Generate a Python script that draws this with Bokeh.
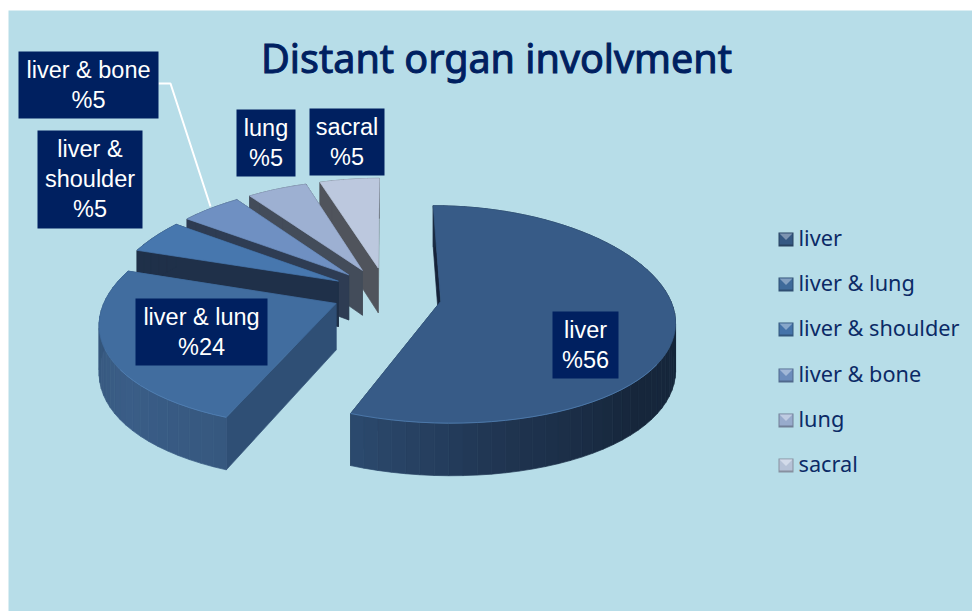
import math
from bokeh.plotting import figure
from bokeh.models import Range1d, ColumnDataSource
from bokeh.core.properties import value
from bokeh.embed import file_html
from bokeh.resources import INLINE

# ---- data ----
categories = ["liver", "liver & lung", "liver & shoulder", "liver & bone", "lung", "sacral"]
percents = [56, 24, 5, 5, 5, 5]
title_text = "Distant organ involvment"

# ---- styles ----
BG = "#b7dde8"
NAVY = "#002060"
LEG_TXT = "#0b2a66"
top_cols = ["#375b87", "#416d9f", "#4777ae", "#6f90c2", "#9db0d2", "#bcc8de"]
rim_stops = [
    ["#2c4a6e", "#1f3450", "#16263b", "#16263b", "#16263b", "#1a2c44", "#1a2c44"],
    ["#2f4f75", "#38597f", "#3a5d87", "#36587f"],
    ["#1f3049", "#1f3049"], ["#2e3c53", "#2e3c53"], ["#434c5a", "#434c5a"], ["#50545c", "#50545c"],
]
# (face at the slice's clockwise end, face at its start)
cut_cols = [("#1b2c44", "#15233a"), ("#2f4f75", "#2f4f75"), ("#1f3049", "#1f3049"),
            ("#2e3c53", "#2e3c53"), ("#434c5a", "#434c5a"), ("#7f9296", "#50545c")]
leg_cols = ["#375b87", "#416d9f", "#4777ae", "#6f90c2", "#9db0d2", "#bcc8de"]

# pie geometry (page pixels)
CX, CY = 386, 292
RX, RY = 228.5, 106
K = 0.12
KX = 0.16
EXPL = 0.24
THICK = 46
SLICE_DY = [4, 0, 0, 0, 0, 0]


def hex2rgb(h):
    return tuple(int(h[i:i + 2], 16) for i in (1, 3, 5))


def ramp(stops, t):
    t = max(0, min(1, t)) * (len(stops) - 1)
    i = min(int(t), len(stops) - 2)
    f = t - i
    a, b = hex2rgb(stops[i]), hex2rgb(stops[i + 1])
    return "#%02x%02x%02x" % tuple(round(a[j] + (b[j] - a[j]) * f) for j in range(3))


def project(pu, pv, down=0.0):
    w = 1 / (1 - K * pv)
    wx = 1 / (1 - KX * pv)
    return CX + RX * pu * wx, CY + RY * pv * w + down * w


def rim_point(ox, oy, ang, down=0.0):
    return project(ox + math.sin(ang), oy - math.cos(ang), down)


polys = []


def add(pts, col, dy=0):
    polys.append(([p[0] for p in pts], [p[1] + dy for p in pts], col))


# slice angles follow from the values (clockwise from the top)
total = sum(percents)
slices = []
acc = 0
for i, v in enumerate(percents):
    a0 = acc / total * 2 * math.pi
    acc += v
    a1 = acc / total * 2 * math.pi
    mid = (a0 + a1) / 2
    slices.append((i, a0, a1, EXPL * math.sin(mid), -EXPL * math.cos(mid)))

hl_x, hl_y = [], []
# painter's order: far slices first
for i, a0, a1, ox, oy in reversed(slices):
    dy = SLICE_DY[i]
    apex_t = project(ox, oy)
    apex_b = project(ox, oy, THICK)
    # cut faces
    add([apex_t, apex_b, rim_point(ox, oy, a1, THICK), rim_point(ox, oy, a1)], cut_cols[i][0], dy)
    add([apex_t, apex_b, rim_point(ox, oy, a0, THICK), rim_point(ox, oy, a0)], cut_cols[i][1], dy)
    # outer rim as shaded strips
    n = max(3, int((a1 - a0) / math.radians(3)))
    angs = [a0 + (a1 - a0) * k / n for k in range(n + 1)]
    for k in range(n):
        t = 1 - (k + 0.5) / n
        add([rim_point(ox, oy, angs[k]), rim_point(ox, oy, angs[k + 1]),
             rim_point(ox, oy, angs[k + 1], THICK), rim_point(ox, oy, angs[k], THICK)],
            ramp(rim_stops[i], t), dy)
    # top surface
    add([apex_t] + [rim_point(ox, oy, a) for a in angs], top_cols[i], dy)
    # thin light edge on the part of the rim nearest the viewer
    front = [a for a in angs if -math.cos(a) > 0.55]
    if len(front) > 1:
        pts = [rim_point(ox, oy, a) for a in front]
        hl_x.append([q[0] for q in pts])
        hl_y.append([q[1] + dy for q in pts])

p = figure(width=972, height=611, x_range=Range1d(0, 972), y_range=Range1d(611, 0),
           toolbar_location=None, output_backend="svg", min_border=0,
           background_fill_color="white", border_fill_color="white", outline_line_color=None)
p.axis.visible = False
p.grid.visible = False

p.quad(left=[8], right=[972], top=[10], bottom=[611], fill_color=BG, line_color=None)

src = ColumnDataSource(dict(xs=[q[0] for q in polys], ys=[q[1] for q in polys], c=[q[2] for q in polys]))
p.patches("xs", "ys", source=src, fill_color="c", line_color="c", line_width=0.7)
p.multi_line(hl_x, hl_y, line_color="#5483b8", line_width=1, line_alpha=0.7)

# title
p.text([496], [57], text=[title_text], text_font=value("Noto Sans"), text_font_size="39.5px",
       text_color=NAVY, text_outline_color=NAVY, text_align="center", text_baseline="middle")

# leader line of "liver & bone"
p.line([158, 170, 210], [83, 83, 206], line_color="white", line_width=2)

# data labels
label_boxes = [(552, 618, 311, 378), (135, 267, 298, 365), (37, 142, 130, 228),
               (18, 158, 51, 118), (236, 295, 109, 176), (309, 384, 108, 175)]
wrap = {"liver & shoulder": ["liver &", "shoulder"]}
for (l, r, t, b), name, v in zip(label_boxes, categories, percents):
    p.quad(left=[l], right=[r], top=[t], bottom=[b], fill_color=NAVY, line_color=None)
    lines = wrap.get(name, [name]) + [f"%{v}"]
    y0 = (t + b) / 2 - (len(lines) - 1) * 15 - 0.5
    p.text([(l + r) / 2] * len(lines), [y0 + j * 30 for j in range(len(lines))], text=lines,
           text_font=value("Liberation Sans"), text_font_size="23.5px", text_color="white",
           text_align="center", text_baseline="middle")

# legend
leg_y = [239, 284, 329, 375, 420, 465]
for name, col, y in zip(categories, leg_cols, leg_y):
    x0, x1, y0, y1 = 778, 793, y - 7, y + 7
    ix0, ix1, iy0, iy1 = x0 + 1, x1 - 1, y0 + 1, y1 - 2
    xm, ym = (x0 + x1) / 2, (iy0 + iy1) / 2 + 1
    frame = ramp(["#000000", col], 0.72)
    mid = ramp(["#000000", col], 0.97)
    light = ramp([col, "#ffffff"], 0.35)
    p.quad(left=[x0], right=[x1], top=[y0], bottom=[y1], fill_color=frame, line_color=None)
    p.quad(left=[ix0], right=[ix1], top=[iy0], bottom=[iy1], fill_color=mid, line_color=None)
    p.patches([[ix0, ix1, xm]], [[iy0, iy0, ym]], fill_color=light, line_color=None)
    p.text([798], [y - 2], text=[name], text_font=value("Noto Sans"), text_font_size="21.7px",
           text_color=LEG_TXT, text_align="left", text_baseline="middle")

open("out.html", "w").write(file_html(p, INLINE))
